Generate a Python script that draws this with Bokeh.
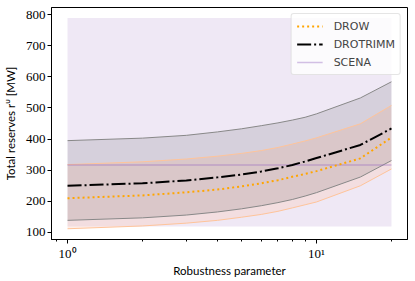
from bokeh.plotting import figure
from bokeh.models import Range1d, FixedTicker, Legend, LegendItem
from bokeh.embed import file_html
from bokeh.resources import INLINE

# ---- data ----
rob = [1, 2, 3, 4, 5, 6, 7, 8, 9, 10, 15, 20]

drow_mean = [210, 219, 229, 238, 248, 258, 268, 279, 288, 297, 338, 405]
drow_low = [112, 121, 130, 139, 149, 158, 168, 179, 189, 198, 250, 304]
drow_high = [318, 327, 336, 345, 354, 363, 373, 384, 394, 404, 449, 508]

drotrimm_mean = [250, 258, 267, 277, 286, 296, 306, 317, 328, 339, 381, 434]
drotrimm_low = [139, 147, 156, 166, 176, 186, 196, 206, 217, 228, 278, 331]
drotrimm_high = [395, 403, 412, 423, 433, 443, 452, 461, 470, 481, 532, 584]

scena_x = [1, 20]
scena_mean = [317, 317]
scena_low = [119, 119]
scena_high = [789, 789]

y_ticks = [100, 200, 300, 400, 500, 600, 700, 800]
x_ticks = [1, 10]
x_tick_labels = {1: "10⁰", 10: "10¹"}
x_minor = [0.9, 2, 3, 4, 5, 6, 7, 8, 9, 20]

p = figure(width=415, height=281, output_backend="svg", toolbar_location=None,
           x_axis_type="log",
           x_range=Range1d(0.862, 23.2), y_range=Range1d(77.5, 822.5),
           min_border_left=51, min_border_right=8, min_border_top=7, min_border_bottom=42)
p.background_fill_color = "white"
p.border_fill_color = "white"
p.outline_line_color = "black"
p.outline_line_width = 1
p.xgrid.visible = False
p.ygrid.visible = False

# bands
p.varea(x=scena_x, y1=scena_low, y2=scena_high, fill_color="#9467bd", fill_alpha=0.15)
p.varea(x=rob, y1=drow_low, y2=drow_high, fill_color="#ffbea5", fill_alpha=0.25)
p.varea(x=rob, y1=drotrimm_low, y2=drotrimm_high, fill_color="black", fill_alpha=0.1)

# band edges
p.line(rob, drotrimm_low, line_color="#888888", line_width=1)
p.line(rob, drotrimm_high, line_color="#888888", line_width=1)
p.line(rob, drow_low, line_color="#ffc49a", line_width=1)
p.line(rob, drow_high, line_color="#ffc49a", line_width=1)

# main lines
r_scena = p.line(scena_x, scena_mean, line_color="#9467bd", line_alpha=0.4, line_width=1.5)
r_drow = p.line(rob, drow_mean, line_color="orange", line_width=2, line_dash="2 3")
r_drot = p.line(rob, drotrimm_mean, line_color="black", line_width=2, line_dash="14 3 2 3")

legend = Legend(items=[
    LegendItem(label="DROW", renderers=[r_drow]),
    LegendItem(label="DROTRIMM", renderers=[r_drot]),
    LegendItem(label="SCENA", renderers=[r_scena]),
], location="top_right")
legend.label_text_font = "DejaVu Sans"
legend.label_text_font_size = "11px"
legend.glyph_width = 26
legend.glyph_height = 14
legend.label_height = 14
legend.spacing = 4
legend.padding = 5
legend.margin = 6
legend.label_standoff = 11
legend.background_fill_color = "white"
legend.background_fill_alpha = 0.8
legend.border_line_color = "#cccccc"
legend.border_line_width = 1
legend.border_radius = 3
p.add_layout(legend)

# axes
p.xaxis.ticker = FixedTicker(ticks=x_ticks, minor_ticks=x_minor)
p.xaxis.major_label_overrides = x_tick_labels
p.yaxis.ticker = FixedTicker(ticks=y_ticks)
for ax in (p.xaxis, p.yaxis):
    ax.axis_line_color = "black"
    ax.axis_line_width = 1
    ax.major_tick_in = 0
    ax.major_tick_out = 4
    ax.minor_tick_in = 0
    ax.minor_tick_out = 2
    ax.major_tick_line_color = "black"
    ax.minor_tick_line_color = "black"
    ax.major_label_text_font = "Liberation Serif"
    ax.major_label_text_font_size = "13px"
    ax.major_label_text_color = "black"
    ax.axis_label_text_font = "Lato"
    ax.axis_label_text_font_size = "11.5px"
    ax.axis_label_text_font_style = "normal"
    ax.axis_label_text_color = "black"
p.yaxis.minor_tick_line_color = None
p.xaxis.major_label_standoff = 2
p.yaxis.major_label_standoff = 2
p.xaxis.axis_label = "Robustness parameter"
p.yaxis.axis_label = "Total reserves rᵁ [MW]"
p.xaxis.axis_label_standoff = 0
p.yaxis.axis_label_standoff = 6

open("out.html", "w").write(file_html(p, INLINE))
